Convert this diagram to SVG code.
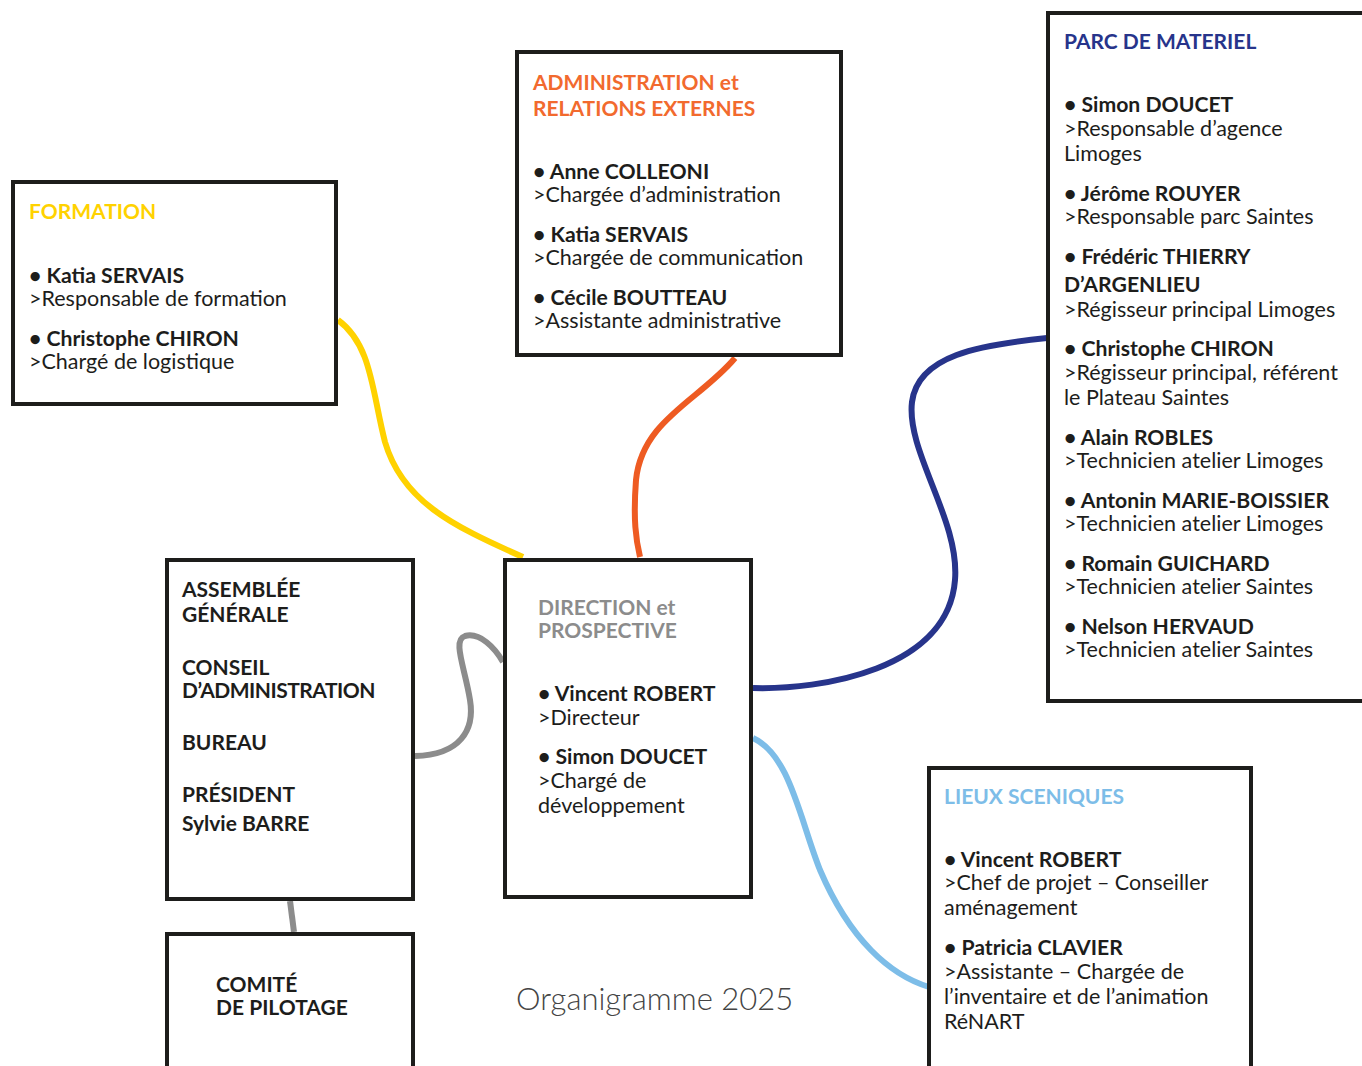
<svg xmlns="http://www.w3.org/2000/svg" width="1362" height="1066" viewBox="0 0 1362 1066">
<style>
text{font-family:Lato,"Noto Sans","Liberation Sans",sans-serif;font-size:21.5px;fill:#1d1d1b}
.b{font-weight:bold;font-size:21.2px}
.t{font-weight:bold;font-size:21px}
.box{fill:#fff;stroke:#1d1d1b;stroke-width:4}
.c{fill:none;stroke-width:6;stroke-linecap:butt}
</style>
<rect width="1362" height="1066" fill="#fff"/>
<g id="connectors">
<path class="c" stroke="#FFD200" d="M338 320 C372 345 372 392 385 442 C402 500 450 525 523 557"/>
<path class="c" stroke="#EE5B22" d="M735 358 C700 400 642 420 636 480 C633 520 636 540 640 557"/>
<path class="c" stroke="#27348B" d="M1047 338 C980 345 918 355 912 402 C906 452 960 520 955 580 C948 670 820 690 753 688"/>
<path class="c" stroke="#8C8C8C" d="M415 756 C460 755 475 730 470 700 C465 668 452 640 465 636 C480 632 495 648 503 662"/>
<path class="c" stroke="#7DBDE8" d="M753 738 C790 755 800 820 820 870 C850 940 890 975 929 987"/>
<path class="c" stroke="#8C8C8C" d="M290 901 L294 932"/>
</g>
<g id="formation">
<rect class="box" x="13" y="182" width="323" height="222"/>
<text class="t" x="29" y="219" style="fill:#FFD200">FORMATION</text>
<text class="b" x="29" y="283">• Katia SERVAIS</text>
<text x="29" y="306">&gt;Responsable de formation</text>
<text class="b" x="29" y="346">• Christophe CHIRON</text>
<text x="29" y="369">&gt;Chargé de logistique</text>
</g>
<g id="administration">
<rect class="box" x="517" y="52" width="324" height="303"/>
<text class="t" x="533" y="90" style="fill:#F26A2E">ADMINISTRATION et</text>
<text class="t" x="533" y="116" style="fill:#F26A2E">RELATIONS EXTERNES</text>
<text class="b" x="533" y="179">• Anne COLLEONI</text>
<text x="533" y="202">&gt;Chargée d’administration</text>
<text class="b" x="533" y="242">• Katia SERVAIS</text>
<text x="533" y="265">&gt;Chargée de communication</text>
<text class="b" x="533" y="305">• Cécile BOUTTEAU</text>
<text x="533" y="328">&gt;Assistante administrative</text>
</g>
<g id="parc">
<rect class="box" x="1048" y="13" width="320" height="688"/>
<text class="t" x="1064" y="49" style="fill:#27348B">PARC DE MATERIEL</text>
<text class="b" x="1064" y="112">• Simon DOUCET</text>
<text x="1064" y="136">&gt;Responsable d’agence</text>
<text x="1064" y="161">Limoges</text>
<text class="b" x="1064" y="201">• Jérôme ROUYER</text>
<text x="1064" y="224">&gt;Responsable parc Saintes</text>
<text class="b" x="1064" y="264">• Frédéric THIERRY</text>
<text class="b" x="1064" y="292">D’ARGENLIEU</text>
<text x="1064" y="317">&gt;Régisseur principal Limoges</text>
<text class="b" x="1064" y="356">• Christophe CHIRON</text>
<text x="1064" y="380">&gt;Régisseur principal, référent</text>
<text x="1064" y="405">le Plateau Saintes</text>
<text class="b" x="1064" y="445">• Alain ROBLES</text>
<text x="1064" y="468">&gt;Technicien atelier Limoges</text>
<text class="b" x="1064" y="508">• Antonin MARIE-BOISSIER</text>
<text x="1064" y="531">&gt;Technicien atelier Limoges</text>
<text class="b" x="1064" y="571">• Romain GUICHARD</text>
<text x="1064" y="594">&gt;Technicien atelier Saintes</text>
<text class="b" x="1064" y="634">• Nelson HERVAUD</text>
<text x="1064" y="657">&gt;Technicien atelier Saintes</text>
</g>
<g id="direction">
<rect class="box" x="505" y="560" width="246" height="337"/>
<text class="t" x="538" y="615" style="fill:#8C8C8C">DIRECTION et</text>
<text class="t" x="538" y="638" style="fill:#8C8C8C">PROSPECTIVE</text>
<text class="b" x="538" y="701">• Vincent ROBERT</text>
<text x="538" y="725">&gt;Directeur</text>
<text class="b" x="538" y="764">• Simon DOUCET</text>
<text x="538" y="788">&gt;Chargé de</text>
<text x="538" y="813">développement</text>
</g>
<g id="lieux">
<rect class="box" x="929" y="768" width="322" height="310"/>
<text class="t" x="944" y="804" style="fill:#7DBDE8">LIEUX SCENIQUES</text>
<text class="b" x="944" y="867">• Vincent ROBERT</text>
<text x="944" y="890">&gt;Chef de projet – Conseiller</text>
<text x="944" y="915">aménagement</text>
<text class="b" x="944" y="955">• Patricia CLAVIER</text>
<text x="944" y="979">&gt;Assistante – Chargée de</text>
<text x="944" y="1004">l’inventaire et de l’animation</text>
<text x="944" y="1029">RéNART</text>
</g>
<g id="assemblee">
<rect class="box" x="167" y="560" width="246" height="339"/>
<text class="t" x="182" y="597">ASSEMBLÉE</text>
<text class="t" x="182" y="622">GÉNÉRALE</text>
<text class="t" x="182" y="675">CONSEIL</text>
<text class="t" x="182" y="698" style="letter-spacing:-0.5px">D’ADMINISTRATION</text>
<text class="t" x="182" y="750">BUREAU</text>
<text class="t" x="182" y="802">PRÉSIDENT</text>
<text class="t" x="182" y="831">Sylvie BARRE</text>
</g>
<g id="comite">
<rect class="box" x="167" y="934" width="246" height="150"/>
<text class="t" x="216" y="992">COMITÉ</text>
<text class="t" x="216" y="1015">DE PILOTAGE</text>
</g>
<text x="516" y="1010" style="font-size:31px;fill:#444;font-weight:300">Organigramme 2025</text>
</svg>
